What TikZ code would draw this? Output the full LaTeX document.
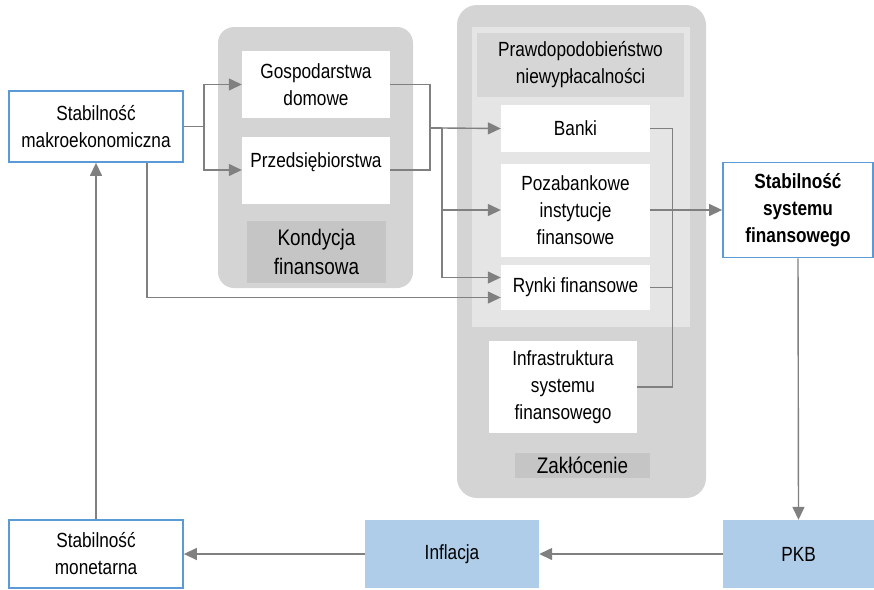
\documentclass[tikz,border=0pt]{standalone}
\usepackage{fontspec}
\setmainfont[FakeStretch=0.84]{Liberation Sans}
\usepackage{tikz}
\usetikzlibrary{calc}
\usetikzlibrary{positioning}
\usetikzlibrary{arrows.meta}
\tikzset{>={Triangle[length=13pt,width=12pt]}}

\definecolor{frameblue}{HTML}{5B9BD5}
\definecolor{fillblue}{HTML}{AFCDE8}
\definecolor{panelgray}{HTML}{D4D4D4}
\definecolor{innergray}{HTML}{E5E5E5}
\definecolor{tagdark}{HTML}{C5C5C5}
\definecolor{taglight}{HTML}{D6D6D6}
\definecolor{wiregray}{HTML}{808080}

\newcommand{\txtfont}{\fontsize{20.5}{27}\selectfont}
\newcommand{\tagfont}{\fontsize{22.5}{29}\selectfont}

\tikzset{
  cell/.style 2 args={minimum width=#1, minimum height=#2, inner sep=0pt,
    align=center, font=\txtfont, fill=white},
  keybox/.style={draw=frameblue, line width=1.8pt},
  bluebox/.style={fill=fillblue},
  tag/.style={font=\tagfont},
  wire/.style={draw=wiregray, line width=1.4pt},
  flow/.style={wire, ->},
}

\begin{document}
\begin{tikzpicture}[x=1pt, y=-1pt]
  \useasboundingbox (0,0) rectangle (874,589);

  % --- 1. Panels ---
  \fill[panelgray, rounded corners=16pt] (218,27) rectangle (413,288);
  \fill[panelgray, rounded corners=20pt] (457,5) rectangle (706,498);
  \fill[innergray] (472,27) rectangle (690,327);

  % --- 2. Left side ---
  \node[cell={174}{71}, keybox] (makro) at (96,126.5) {Stabilność\\makroekonomiczna};
  \node[cell={174}{68}, keybox] (monet) at (96,554) {Stabilność\\monetarna};

  % --- 3. Kondycja finansowa ---
  \node[cell={148}{67}] (gosp) at (316,84.5) {Gospodarstwa\\domowe};
  \node[cell={148}{67}] (przed) at (316,170) {};
  \node[font=\txtfont, inner sep=0pt] (przed-txt) at ([yshift=8pt]przed.center) {Przedsiębiorstwa};
  \node[cell={139}{62}, fill=tagdark, tag] (kond) at (316.5,252) {Kondycja\\finansowa};

  % --- 4. Zakłócenie ---
  \node[cell={207}{64}, fill=taglight] (prawd) at (580.5,65) {Prawdopodobieństwo\\niewypłacalności};
  \node[cell={149}{47}] (banki) at (575.5,128.5) {Banki};
  \node[cell={149}{93}] (pozab) at (575.5,210) {Pozabankowe\\instytucje\\finansowe};
  \node[cell={149}{45}] (rynki) at (575.5,287.5) {Rynki finansowe};
  \node[cell={148}{92}] (infra) at (563,387) {Infrastruktura\\systemu\\finansowego};
  \node[cell={135}{25}, fill=tagdark, tag] (zak) at (582.5,465.5) {Zakłócenie};

  % --- 5. Right and bottom ---
  \node[cell={150}{95}, keybox, font=\txtfont\bfseries] (sys) at (798,210) {Stabilność\\systemu\\finansowego};
  \node[cell={151}{68}, bluebox] (pkb) at (798.5,554) {PKB};
  \node[cell={174}{68}, bluebox] (infl) at (452,554) {Inflacja};

  % --- 6. Connectors ---
  \draw[wire] (makro.east) -- ++(20,0) coordinate (split);
  \draw[flow] (split) |- (gosp.west);
  \draw[flow] (split) |- (przed.west);

  \coordinate (join) at (430,128);
  \draw[wire] (gosp.east) -| (join) |- (przed.east);
  \draw[wire] (join) -- ++(12,0) coordinate (fan);
  \draw[flow] (fan) -- (banki.west);
  \draw[flow] (fan) |- (pozab.west);
  \draw[flow] (fan) |- ([yshift=10pt]rynki.west);
  \draw[flow] ([xshift=51pt]makro.south) |- ([yshift=-10pt]rynki.west);

  \draw[wire] (banki.east) -- ++(22,0) coordinate (gather) |- (infra.east);
  \draw[wire] (pozab.east) -- (pozab.east -| gather);
  \draw[wire] (rynki.east) -- (rynki.east -| gather);
  \draw[flow] (sys.west -| gather) -- (sys.west);

  \draw[flow] (sys.south) -- (pkb.north);
  \draw[flow] (pkb.west) -- (infl.east);
  \draw[flow] (infl.west) -- (monet.east);
  \draw[flow] (monet.north) -- (makro.south);
\end{tikzpicture}
\end{document}
